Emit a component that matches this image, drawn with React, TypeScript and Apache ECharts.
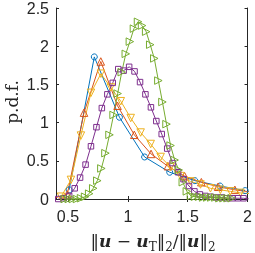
import React, { useEffect, useRef } from "react";
import * as echarts from "echarts";

// Blue (circles)
const blueX = [0.51, 0.72, 0.93, 1.14, 1.35, 1.56, 1.77, 1.98];
const blueY = [0.12, 1.86, 1.07, 0.55, 0.35, 0.24, 0.17, 0.11];
// Orange (up triangles)
const orangeX = [0.354, 0.494, 0.634, 0.774, 0.914, 1.054, 1.194, 1.334, 1.474, 1.614, 1.754, 1.894, 2.034];
const orangeY = [0.0, 0.06, 1.13, 1.8, 1.22, 0.84, 0.59, 0.43, 0.3, 0.22, 0.16, 0.12, 0.09];
// Yellow (down triangles)
const yellowX = [0.442, 0.525, 0.608, 0.692, 0.775, 0.858, 0.941, 1.024, 1.107, 1.191, 1.274, 1.357, 1.44, 1.523, 1.607, 1.69, 1.773, 1.856, 1.94, 2.023];
const yellowY = [0.03, 0.25, 0.83, 1.39, 1.64, 1.46, 1.28, 1.06, 0.87, 0.72, 0.55, 0.42, 0.3, 0.23, 0.19, 0.14, 0.12, 0.1, 0.08, 0.07];
// Purple (squares)
const purpleX = [0.419, 0.4645, 0.51, 0.556, 0.601, 0.647, 0.692, 0.738, 0.783, 0.829, 0.874, 0.92, 0.965, 1.011, 1.056, 1.102, 1.147, 1.193, 1.238, 1.283, 1.329, 1.374, 1.42, 1.465, 1.511, 1.556, 1.602, 1.647, 1.693, 1.738, 1.784, 1.829, 1.875, 1.92, 1.966, 2.011];
const purpleY = [0.0, 0.01, 0.04, 0.14, 0.28, 0.45, 0.69, 0.94, 1.19, 1.37, 1.52, 1.7, 1.68, 1.73, 1.67, 1.53, 1.37, 1.2, 1.02, 0.85, 0.66, 0.47, 0.35, 0.26, 0.17, 0.1, 0.06, 0.04, 0.03, 0.02, 0.02, 0.01, 0.01, 0.01, 0.01, 0.0];
// Green (right triangles)
const greenX = [0.473, 0.507, 0.541, 0.575, 0.609, 0.643, 0.677, 0.711, 0.745, 0.779, 0.813, 0.847, 0.881, 0.915, 0.949, 0.983, 1.017, 1.051, 1.085, 1.119, 1.153, 1.187, 1.221, 1.255, 1.289, 1.323, 1.357, 1.391, 1.425, 1.459, 1.493, 1.527, 1.561, 1.595, 1.629, 1.663, 1.697, 1.731, 1.765, 1.799, 1.833, 1.867];
const greenY = [0, 0, 0, 0, 0.01, 0.03, 0.07, 0.14, 0.24, 0.4, 0.6, 0.84, 1.1, 1.38, 1.66, 1.9, 2.06, 2.23, 2.32, 2.27, 2.19, 2.02, 1.84, 1.55, 1.27, 0.98, 0.7, 0.51, 0.38, 0.22, 0.1, 0.04, 0.03, 0.03, 0.02, 0.02, 0.02, 0.02, 0.01, 0.01, 0.01, 0.01];

const xTicks = [0.5, 1, 1.5, 2];

const AX = "#262626";

function zip(xs: number[], ys: number[]) {
  return xs.map((x, i) => [x, ys[i]]);
}

export default function App() {
  const ref = useRef<HTMLDivElement>(null);
  useEffect(() => {
    const chart = echarts.init(ref.current!, null, { renderer: "svg" });
    const mk = (name: string, xs: number[], ys: number[], color: string, symbol: string, size: number, rot = 0) => ({
      name,
      type: "line",
      data: zip(xs, ys),
      xAxisIndex: 0,
      yAxisIndex: 0,
      symbol,
      symbolSize: size,
      symbolRotate: rot,
      showAllSymbol: true,
      lineStyle: { color, width: 1 },
      itemStyle: { color: "rgba(255,255,255,0)", borderColor: color, borderWidth: 1 },
      clip: true,
    });
    const labelFont = { fontFamily: "Liberation Sans", fontSize: 16, color: AX };
    chart.setOption({
      animation: false,
      grid: { left: 56, right: 4, top: 6, bottom: 54, show: false },
      xAxis: [
        {
          type: "value", min: 0.4, max: 2, position: "bottom",
          axisLine: { show: true, lineStyle: { color: AX, width: 1 } },
          axisTick: { show: true, inside: true, length: 3, customValues: xTicks, lineStyle: { color: AX } },
          axisLabel: { ...labelFont, margin: 9, customValues: xTicks },
          splitLine: { show: false },
        },
        {
          type: "value", min: 0.4, max: 2, position: "top",
          axisLine: { show: true, lineStyle: { color: AX, width: 1 } },
          axisTick: { show: true, inside: true, length: 3, customValues: xTicks, lineStyle: { color: AX } },
          axisLabel: { show: false },
          splitLine: { show: false },
        },
      ],
      yAxis: [
        {
          type: "value", min: 0, max: 2.5, interval: 0.5, position: "left",
          axisLine: { show: true, lineStyle: { color: AX, width: 1 } },
          axisTick: { show: true, inside: true, length: 3, lineStyle: { color: AX } },
          axisLabel: { ...labelFont, margin: 7 },
          splitLine: { show: false },
        },
        {
          type: "value", min: 0, max: 2.5, interval: 0.5, position: "right",
          axisLine: { show: true, lineStyle: { color: AX, width: 1 } },
          axisTick: { show: true, inside: true, length: 3, lineStyle: { color: AX } },
          axisLabel: { show: false },
          splitLine: { show: false },
        },
      ],
      series: [
        mk("a", blueX, blueY, "#0072BD", "circle", 6),
        mk("b", orangeX, orangeY, "#D95319", "triangle", 7.5),
        mk("c", yellowX, yellowY, "#EDB120", "triangle", 7.5, 180),
        mk("d", purpleX, purpleY, "#7E2F8E", "rect", 5.5),
        mk("e", greenX, greenY, "#77AC30", "triangle", 7.5, -90),
      ],
      graphic: [
        {
          type: "text", x: 12, y: 102, rotation: Math.PI / 2,
          style: { text: "p.d.f.", fontFamily: "DejaVu Serif", fontSize: 17, fill: AX, align: "center", verticalAlign: "middle" },
        },
        {
          type: "text", x: 153, y: 241,
          style: {
            text: "{n|‖}{b|u}{n| − }{b|u}{s|T}{n|‖}{s|2}{n|/‖}{b|u}{n|‖}{s|2}",
            align: "center", verticalAlign: "middle", fill: AX,
            rich: {
              n: { fontFamily: "DejaVu Serif", fontSize: 17, fill: AX, lineHeight: 24, verticalAlign: "middle" },
              b: { fontFamily: "DejaVu Serif", fontSize: 17, fontWeight: "bold", fontStyle: "italic", fill: AX, lineHeight: 24, verticalAlign: "middle" },
              s: { fontFamily: "DejaVu Serif", fontSize: 12, fill: AX, lineHeight: 12, verticalAlign: "bottom" },
            },
          },
        },
      ],
    });
    return () => chart.dispose();
  }, []);
  return <div ref={ref} style={{ position: "fixed", left: 0, top: 0, width: 255, height: 253 }} />;
}
